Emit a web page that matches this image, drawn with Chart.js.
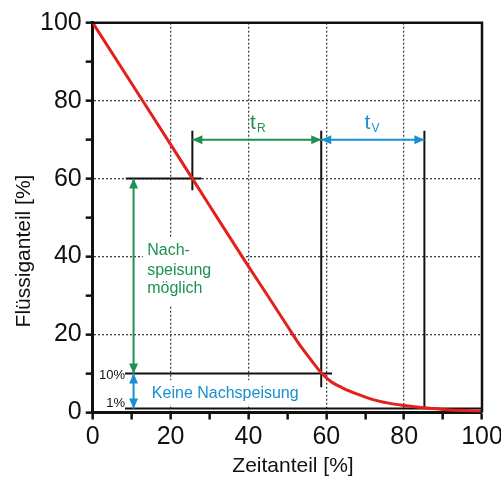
<!DOCTYPE html>
<html>
<head>
<meta charset="utf-8">
<script src="https://cdn.jsdelivr.net/npm/chart.js@4.4.1/dist/chart.umd.min.js"></script>
<style>
  html, body { margin: 0; padding: 0; background: #fff; }
  #wrap { width: 501px; height: 477px; }
</style>
</head>
<body>
<div id="wrap"><canvas id="chart"></canvas></div>
<script>
// Zeitanteil [%] vs. Flüssiganteil [%]
var timeShare = [0, 10, 20, 30, 40, 45, 50, 53, 56, 58.7, 61, 64, 68, 72, 76, 80, 85, 90, 95, 100];
var liquidShare = [100, 84.4, 68.8, 53.1, 37.5, 29.9, 22.2, 17.6, 13.6, 10.2, 8.1, 6.4, 4.7, 3.3, 2.4, 1.8, 1.2, 0.8, 0.5, 0.3];
var tickLabels = [0, 20, 40, 60, 80, 100];

// black reference lines, data units: [x1, y1, x2, y2]
var refLines = [
    [8.5, 60, 28, 60],
    [25.6, 57, 25.6, 72.3],
    [58.7, 6.5, 58.7, 72.3],
    [85.2, 1, 85.2, 72.3],
    [8.3, 10, 61.5, 10],
    [8.3, 1, 100, 1]
];
// double headed arrows, data units: [x1, y1, x2, y2]
var greenArrows = [[25.6, 70, 58.7, 70], [10.5, 60, 10.5, 10]];
var blueArrows = [[58.7, 70, 85.2, 70], [10.5, 10, 10.5, 1]];

var GREEN = '#1e9150';
var BLUE = '#1a8fcf';
var FONT = '"Liberation Sans", Arial, Helvetica, sans-serif';

var datasets = [{
    data: timeShare.map(function (x, i) { return {x: x, y: liquidShare[i]}; }),
    borderColor: '#e3201b',
    borderWidth: 3,
    pointRadius: 0,
    cubicInterpolationMode: 'monotone',
    fill: false
}];
refLines.forEach(function (l) {
    datasets.push({
        data: [{x: l[0], y: l[1]}, {x: l[2], y: l[3]}],
        borderColor: '#111',
        borderWidth: 2,
        pointRadius: 0,
        fill: false
    });
});

function head(ctx, x, y, ang) {
    ctx.save();
    ctx.translate(x, y);
    ctx.rotate(ang);
    ctx.beginPath();
    ctx.moveTo(0, 0);
    ctx.lineTo(-10, -4.5);
    ctx.lineTo(-10, 4.5);
    ctx.closePath();
    ctx.fill();
    ctx.restore();
}

var annotations = {
    id: 'annotations',
    beforeDatasetsDraw: function (chart) {
        var ctx = chart.ctx, sx = chart.scales.x, sy = chart.scales.y;
        var X = function (v) { return sx.getPixelForValue(v); };
        var Y = function (v) { return sy.getPixelForValue(v); };
        ctx.save();
        ctx.fillStyle = '#fff';
        ctx.fillRect(X(12.9), Y(45), X(39) - X(12.9), Y(27.3) - Y(45));
        ctx.fillRect(X(14.2), Y(8.3), X(54.4) - X(14.2), Y(2) - Y(8.3));

        ctx.fillStyle = GREEN;
        ctx.font = '16px ' + FONT;
        ctx.textAlign = 'left';
        ctx.textBaseline = 'alphabetic';
        ctx.fillText('Nach-', X(14), Y(40.4));
        ctx.fillText('speisung', X(14), Y(35.4));
        ctx.fillText('möglich', X(14), Y(30.6));

        ctx.fillStyle = BLUE;
        ctx.font = '16px ' + FONT;
        ctx.fillText('Keine Nachspeisung', X(15.2), Y(3.8));

        ctx.fillStyle = '#111';
        ctx.font = '13px ' + FONT;
        ctx.textAlign = 'right';
        ctx.fillText('10%', X(8.3), Y(8.7));
        ctx.fillText('1%', X(8.3), Y(1.4));
        ctx.restore();
    },
    afterDatasetsDraw: function (chart) {
        var ctx = chart.ctx, sx = chart.scales.x, sy = chart.scales.y;
        var X = function (v) { return sx.getPixelForValue(v); };
        var Y = function (v) { return sy.getPixelForValue(v); };
        ctx.save();
        var drawArrows = function (list, color) {
            ctx.strokeStyle = color;
            ctx.fillStyle = color;
            ctx.lineWidth = 2;
            list.forEach(function (a) {
                var x1 = X(a[0]), y1 = Y(a[1]), x2 = X(a[2]), y2 = Y(a[3]);
                var ang = Math.atan2(y2 - y1, x2 - x1);
                ctx.beginPath();
                ctx.moveTo(x1, y1);
                ctx.lineTo(x2, y2);
                ctx.stroke();
                head(ctx, x2, y2, ang);
                head(ctx, x1, y1, ang + Math.PI);
            });
        };
        drawArrows(greenArrows, GREEN);
        drawArrows(blueArrows, BLUE);

        // t_R and t_V labels
        ctx.textAlign = 'left';
        ctx.textBaseline = 'alphabetic';
        ctx.fillStyle = GREEN;
        ctx.font = '21px ' + FONT;
        ctx.fillText('t', X(40.4), Y(72.8));
        ctx.font = '12px ' + FONT;
        ctx.fillText('R', X(40.4) + 7, Y(72.8) + 3);
        ctx.fillStyle = BLUE;
        ctx.font = '21px ' + FONT;
        ctx.fillText('t', X(69.8), Y(72.8));
        ctx.font = '12px ' + FONT;
        ctx.fillText('V', X(69.8) + 7, Y(72.8) + 3);

        // frame top / right
        var a = chart.chartArea;
        ctx.strokeStyle = '#111';
        ctx.lineWidth = 2.5;
        ctx.beginPath();
        ctx.moveTo(a.left, a.top);
        ctx.lineTo(a.right, a.top);
        ctx.lineTo(a.right, a.bottom);
        ctx.stroke();
        ctx.restore();
    },
    afterDraw: function (chart) {
        var ctx = chart.ctx;
        ctx.save();
        ctx.fillStyle = '#111';
        ctx.font = '21px ' + FONT;
        ctx.textAlign = 'center';
        ctx.textBaseline = 'middle';
        ctx.fillText('Zeitanteil [%]', 293, 466);
        ctx.translate(24, 251);
        ctx.rotate(-Math.PI / 2);
        ctx.fillText('Flüssiganteil [%]', 0, 0);
        ctx.restore();
    }
};

function gridColor(c) {
    var v = c.tick ? c.tick.value : 0;
    return (v % 20 === 0 && v > 0 && v < 100) ? '#444' : 'rgba(0,0,0,0)';
}

function axis(pos) {
    return {
        type: 'linear',
        min: 0,
        max: 100,
        border: {display: true, color: '#111', width: 3, dash: [2, 2]},
        grid: {
            color: gridColor,
            lineWidth: 1.3,
            drawTicks: true,
            tickLength: 7,
            tickColor: '#111',
            tickWidth: 2.5,
            tickBorderDash: []
        },
        ticks: {
            stepSize: 10,
            autoSkip: false,
            maxRotation: 0,
            padding: pos === 'x' ? 3 : 4,
            color: '#111',
            font: {family: FONT, size: 25},
            callback: function (v) { return tickLabels.indexOf(v) >= 0 ? String(v) : ''; }
        },
        afterFit: function (s) {
            if (pos === 'x') {
                s.height = 64.5;
                s.paddingLeft = 0;
                s.paddingRight = 0;
            } else {
                s.width = 92.7;
                s.paddingTop = 0;
                s.paddingBottom = 0;
            }
        }
    };
}

new Chart(document.getElementById('chart'), {
    type: 'line',
    data: {datasets: datasets},
    options: {
        responsive: true,
        maintainAspectRatio: false,
        animation: false,
        layout: {padding: {top: 22.7, right: 19, bottom: 0, left: 0}},
        plugins: {legend: {display: false}, tooltip: {enabled: false}},
        scales: {x: axis('x'), y: axis('y')}
    },
    plugins: [annotations]
});
</script>
</body>
</html>
